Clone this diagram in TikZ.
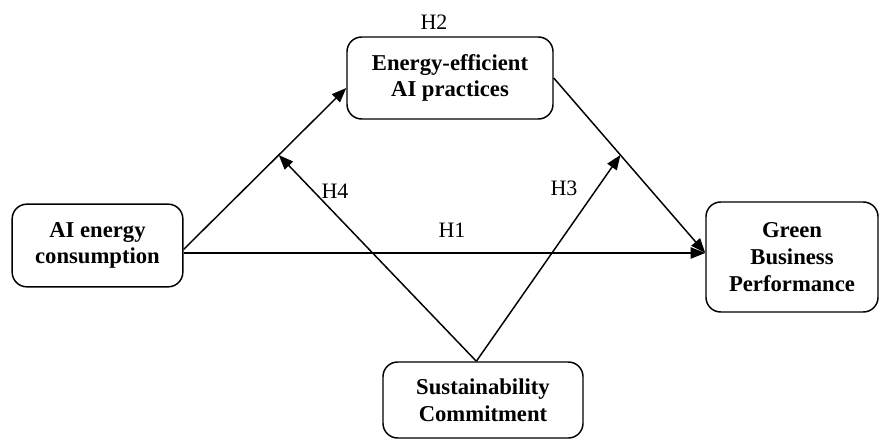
\documentclass[tikz,border=0pt]{standalone}
\usepackage{fontspec}
\setmainfont{Liberation Serif}
\usetikzlibrary{arrows.meta,positioning}

\tikzset{
	box/.style={draw, rounded corners=11pt, line width=1.1pt, align=center, inner sep=0pt,
		font=\fontsize{17}{20}\selectfont\bfseries},
	hyp/.style={font=\fontsize{16.5}{20}\selectfont, inner sep=0pt},
	link/.style={line width=1.1pt, -{Triangle[length=11pt,width=8.5pt]}}
}

\begin{document}
\begin{tikzpicture}[x=0.75pt,y=-0.75pt]
	\useasboundingbox (0,0) rectangle (879,439);

	%Draws the four constructs
	\node[box, minimum width=128pt, minimum height=62pt] (cons) at (97.5,245.5) {AI energy\\consumption};
	\node[box, minimum width=154.5pt, minimum height=61.5pt] (prac) at (450,78) {Energy-efficient\\AI practices};
	\node[box, minimum width=129pt, minimum height=82.5pt] (perf) at (792,257) {Green\\Business\\Performance};
	\node[box, minimum width=150pt, minimum height=57pt] (comm) at (483,400) {Sustainability\\Commitment};

	%End points on the boxes
	\coordinate (consout) at ([yshift=-5.6pt]cons.east);
	\coordinate (perfin) at ([yshift=3pt]perf.west);
	\coordinate (commout) at ([xshift=-5pt]comm.north);

	%Direct and mediated paths
	\draw[link] (consout) -- (consout -| perfin);
	\draw[link] ([yshift=-3pt]cons.east) -- ([yshift=-7.5pt]prac.west);
	\draw[link] (prac.east) -- (perfin);

	%Points where the moderating arrows hit the paths
	\path ([yshift=-3pt]cons.east) -- ([yshift=-7.5pt]prac.west) coordinate[pos=0.585] (modfour);
	\path (prac.east) -- (perfin) coordinate[pos=0.44] (modthree);

	%Moderating paths
	\draw[link] (commout) -- (modfour);
	\draw[link] (commout) -- (modthree);

	%Hypothesis labels
	\node[hyp] (hone) at (452,230) {H1};
	\node[hyp] (htwo) at (434,22) {H2};
	\node[hyp] (hthree) at (564,188) {H3};
	\node[hyp] (hfour) at (335,191) {H4};
\end{tikzpicture}
\end{document}
